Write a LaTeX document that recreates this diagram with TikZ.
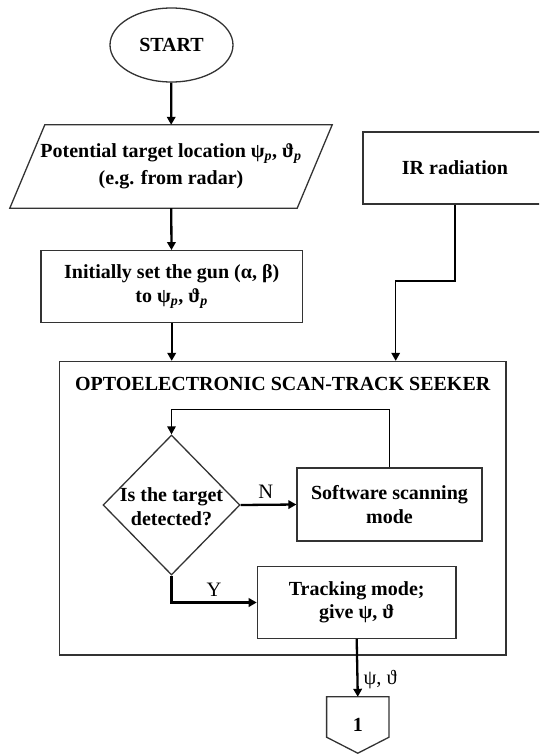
\documentclass[tikz,border=0pt]{standalone}
\usepackage{fontspec}
\setmainfont{Liberation Serif}
\usetikzlibrary{arrows.meta, shapes.geometric}

\begin{document}
\begin{tikzpicture}[x=1pt, y=-1pt, >={Triangle[length=8pt, width=8.5pt]},
        every node/.style={font=\fontsize{20}{23.5}\selectfont\bfseries, align=center, inner sep=0pt},
        block/.style={draw=black!80, line width=1.3pt, rectangle},
        lbl/.style={font=\fontsize{20.5}{23}\selectfont\mdseries, inner sep=5pt},
        flow/.style={->, line width=2.3pt},
        wire/.style={line width=1.5pt}]
            \useasboundingbox (0, 0) rectangle (539, 755);
            \clip (0, 0) rectangle (539, 755);
            \node[draw=black!80, line width=1.3pt, ellipse, minimum width=123pt, minimum height=74pt] (start) at (171.5, 45) {START};
            \node[minimum width=287pt, minimum height=83pt] (loc) at (171, 166.5) {Potential target location ψ\textsubscript{\textit{p}}, ϑ\textsubscript{\textit{p}}\\[4pt] (e.g. from radar)};
            \draw[draw=black!80, line width=1.3pt] ([xshift=17.5pt]loc.north west) -- ([xshift=17.5pt]loc.north east) -- ([xshift=-17.5pt]loc.south east) -- ([xshift=-17.5pt]loc.south west) -- cycle;
            \node[block, minimum width=184pt, minimum height=72pt] (ir) at (455, 168) {IR radiation};
            \node[block, minimum width=261.5pt, minimum height=71.6pt] (init) at (171.7, 286.5) {Initially set the gun (α, β)\\to ψ\textsubscript{\textit{p}}, ϑ\textsubscript{\textit{p}}};
            \node[block, minimum width=446.5pt, minimum height=293.5pt] (seeker) at (282.75, 508.25) {};
            \node (title) at ([yshift=-23pt]seeker.north) {OPTOELECTRONIC SCAN-TRACK SEEKER};
            \node[draw=black!80, line width=1.3pt, diamond, minimum width=137pt, minimum height=140pt] (det) at (171.5, 505) {};
            \node (detq) at ([yshift=-1.5pt]det) {Is the target\\detected?};
            \node[block, minimum width=185pt, minimum height=73pt] (scan) at (389.5, 504.5) {Software scanning\\mode};
            \node[block, minimum width=198.7pt, minimum height=71.6pt] (track) at (356.7, 602.5) {Tracking mode;\\give ψ, ϑ};
            \node[minimum width=62pt, minimum height=56pt] (conn) at (357.8, 725) {1};
            \draw[draw=black!80, line width=1.3pt] (conn.north west) -- (conn.north east) -- ([yshift=16pt]conn.south east) -- (conn.south) -- ([yshift=16pt]conn.south west) -- cycle;
            \coordinate (irbend) at (395.7, 281);
            \coordinate (loopbend) at (389.5, 409.3);
            \draw[flow] (start) -- (loc);
            \draw[flow] (loc) -- (init);
            \draw[flow] (init.south) -- (init.south |- seeker.north);
            \draw[wire, ->] (ir.south) |- (irbend) -- (irbend |- seeker.north);
            \draw[wire, ->] (scan.north) -- (loopbend) -| (det.north);
            \draw[flow] (det.east) -- node[lbl, above, pos=0.45] {N} (scan.west);
            \draw[flow] (det.south) |- node[lbl, above, pos=0.75] {Y} (track.west);
            \draw[flow] (track.south) -- node[lbl, right, pos=0.7] {ψ, ϑ} (conn.north);
\end{tikzpicture}
\end{document}
